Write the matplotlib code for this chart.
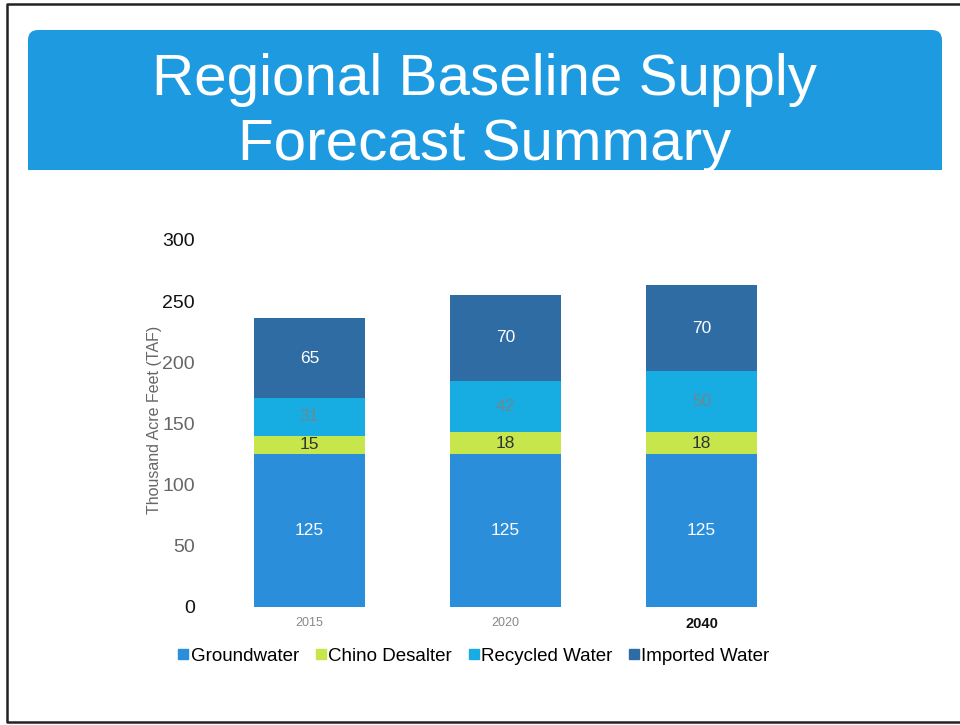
import matplotlib
matplotlib.use("Agg")
import matplotlib.pyplot as plt
from matplotlib.patches import FancyBboxPatch, Rectangle
from matplotlib.lines import Line2D
import numpy as np

plt.rcParams['font.family'] = ['Liberation Sans', 'DejaVu Sans']

# --- data ---
years = ['2015', '2020', '2040']
series = ['Groundwater', 'Chino Desalter', 'Recycled Water', 'Imported Water']
groundwater = [125, 125, 125]
chino_desalter = [15, 18, 18]
recycled_water = [31, 42, 50]
imported_water = [65, 70, 70]

colors = ['#2b8edb', '#c6e64c', '#17ade2', '#2f6ca3']
label_colors = ['white', '#333333', '#6f8790', 'white']

fig = plt.figure(figsize=(9.6, 7.25), dpi=100)

# background layer in pixel coords (slide frame + title banner)
bg = fig.add_axes([0, 0, 1, 1])
bg.set_xlim(0, 960)
bg.set_ylim(725, 0)
bg.axis('off')
bg.plot([960, 7, 7, 960], [4, 4, 722, 722], color='#222222', lw=1.8)
bg.add_patch(FancyBboxPatch((28, 30), 914, 100, boxstyle='round,pad=0,rounding_size=10',
                            fc='#1e9be0', ec='none'))
bg.add_patch(Rectangle((28, 80), 914, 90, fc='#1e9be0', ec='none'))
bg.text(485, 95, 'Regional Baseline Supply', color='white', fontsize=42,
        ha='center', va='baseline')
bg.text(485, 160, 'Forecast Summary', color='white', fontsize=42,
        ha='center', va='baseline')

# chart
ax = fig.add_axes([0.2203, 0.1628, 0.6125, 0.5062])
x = np.arange(len(years))
data = [groundwater, chino_desalter, recycled_water, imported_water]
bottom = np.zeros(len(years))
for vals, name, c, lc in zip(data, series, colors, label_colors):
    bars = ax.bar(x, vals, 0.57, bottom=bottom, color=c, label=name)
    ax.bar_label(bars, labels=[str(v) for v in vals], label_type='center',
                 color=lc, fontsize=12.5)
    bottom += np.array(vals)

ax.set_xlim(-0.5, 2.5)
ax.set_ylim(0, 300)
ax.set_yticks(range(0, 301, 50))
for s in ax.spines.values():
    s.set_visible(False)
ax.tick_params(length=0)
ax.tick_params(axis='y', labelsize=14, pad=12)
ax.tick_params(axis='x', pad=7)
ytick_colors = ['#111111', '#666666', '#666666', '#666666', '#666666', '#111111', '#111111']
for lab, c in zip(ax.get_yticklabels(), ytick_colors):
    lab.set_color(c)
ax.set_xticks(x)
ax.set_xticklabels(years)
for i, lab in enumerate(ax.get_xticklabels()):
    if i == 2:
        lab.set_fontsize(10.5)
        lab.set_fontweight('bold')
        lab.set_color('#111111')
    else:
        lab.set_fontsize(9)
        lab.set_color('#888888')
ax.set_ylabel('Thousand Acre Feet (TAF)', fontsize=11.5, color='#666666')
ax.yaxis.set_label_coords(-0.085, 0.51)

handles = [Line2D([], [], marker='s', ls='none', color=c, markersize=7) for c in colors]
fig.legend(handles, series, loc='center', bbox_to_anchor=(0.494, 0.095), ncol=4,
           frameon=False, fontsize=13.5, handlelength=0.5, handletextpad=0.15,
           columnspacing=0.9)

fig.savefig('out.png', dpi=100)
